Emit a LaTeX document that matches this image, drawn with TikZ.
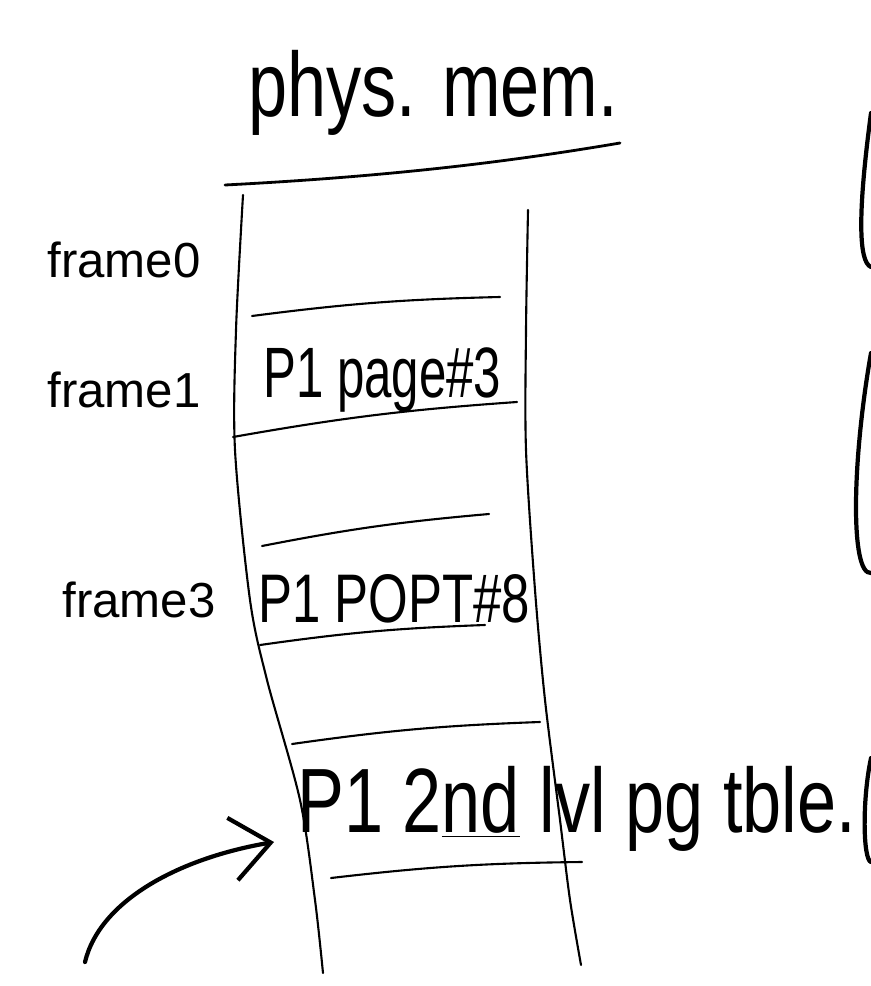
\documentclass[tikz,border=0pt]{standalone}
\usepackage{fontspec}
\setmainfont{Liberation Sans}
\usepackage{graphicx}
\usetikzlibrary{arrows.meta}

% stretch a line of text upwards, as the pen writes it taller
\newcommand{\tall}[2][1.35]{\scalebox{1}[#1]{#2}}

\tikzset{
	pen/.style={line width=1.2pt, line cap=round},
	heavy/.style={line width=2.4pt, line cap=round},
	hand/.style={inner sep=0pt, anchor=base west},
	framename/.style={hand, font=\fontsize{28}{28}\selectfont},
}

\begin{document}
\begin{tikzpicture}[x=0.02cm, y=-0.02cm]
	\useasboundingbox (0,0) rectangle (871,986);

	% heading
	\node[hand, font=\fontsize{40}{40}\selectfont] (title) at (248,117) {\tall[1.3]{phys. mem.}};
	\draw[pen, line width=1.6pt] (225,185) .. controls (400,176) and (520,160) .. (620,143);

	% the two sides of the column
	\draw[pen] plot[smooth] coordinates {(243,195) (236,330) (235,450) (250,600) (267,680) (300,800) (315,900) (323,973)};
	\draw[pen] plot[smooth] coordinates {(528,210) (526,330) (526,450) (535,590) (545,700) (560,820) (570,900) (581,965)};

	% borders between the frames
	\foreach \xa/\ya/\xb/\yb in {252/316/500/297, 233/437/517/402, 262/546/489/514, 260/645/485/625, 292/744/540/722, 331/878/582/862}
		\draw[pen] (\xa,\ya) to[bend left=3] (\xb,\yb);

	\node[framename] (frame0) at (47,277) {frame0};
	\node[framename] (frame1) at (47,407) {frame1};
	\node[framename] (frame3) at (62,617) {frame3};

	\node[hand, font=\fontsize{28}{28}\selectfont] (page3) at (263,397) {\tall[1.45]{P1 page\#3}};
	\node[hand, font=\fontsize{29}{29}\selectfont] (popt8) at (258,622) {\tall{P1 POPT\#8}};
	\node[hand, font=\fontsize{40}{40}\selectfont] (pgtable) at (297,832) {\tall[1.3]{P1 2\underline{nd} lvl pg tble.}};

	\coordinate (tail) at (85,962);
	\coordinate (tip) at (274,842);
	\draw[heavy, -{Straight Barb[length=22pt, width=36pt]}] (tail) .. controls (100,900) and (180,858) .. (tip);

	% edge of the next sheet
	\draw[heavy] (871,113) .. controls (858,210) and (858,262) .. (871,267);
	\draw[heavy] (871,353) .. controls (852,460) and (850,575) .. (871,573);
	\draw[heavy] (871,758) .. controls (862,800) and (863,860) .. (871,862);
\end{tikzpicture}
\end{document}
